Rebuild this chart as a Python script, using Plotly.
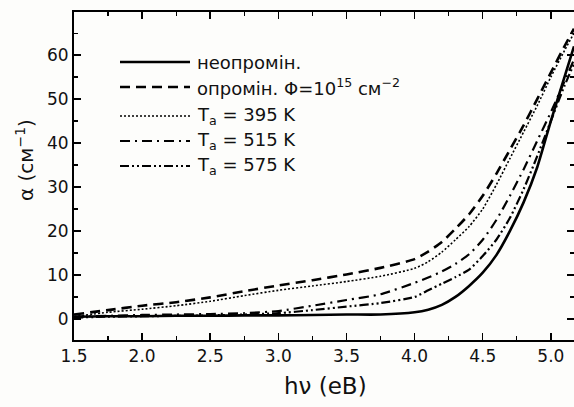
import plotly.graph_objects as go

# photon energy, eV
energy = [1.5, 1.75, 2.0, 2.25, 2.5, 2.75, 3.0, 3.25, 3.5, 3.75, 4.0, 4.1, 4.2,
          4.3, 4.4, 4.5, 4.6, 4.7, 4.8, 4.9, 5.0, 5.1, 5.17]

# absorption coefficient, cm^-1
alpha_unirr = [0.5, 0.6, 0.6, 0.7, 0.7, 0.8, 0.8, 0.9, 1.0, 1.0, 1.5, 2.1, 3.2,
               5.0, 7.5, 10.5, 14.5, 20.0, 26.5, 34.5, 45.0, 55.0, 62.0]
alpha_irr = [1.0, 2.0, 3.0, 3.8, 4.9, 6.3, 7.6, 8.8, 10.1, 11.6, 13.6, 15.3, 17.5,
             20.5, 23.8, 28.0, 33.0, 38.5, 44.0, 50.0, 56.0, 62.0, 66.0]
alpha_395 = [0.5, 1.5, 2.2, 3.0, 4.0, 5.3, 6.5, 7.5, 8.5, 9.7, 11.5, 13.0, 15.2,
             18.0, 21.0, 25.0, 30.5, 36.5, 42.5, 48.5, 55.0, 61.0, 65.0]
alpha_515 = [0.5, 0.7, 0.9, 1.0, 1.1, 1.3, 1.8, 3.0, 4.3, 5.6, 8.2, 9.4, 10.8,
             12.5, 14.7, 18.0, 22.5, 28.0, 34.0, 40.5, 47.0, 54.0, 59.0]
alpha_575 = [0.3, 0.5, 0.6, 0.7, 0.8, 1.0, 1.3, 2.0, 2.8, 3.6, 5.0, 6.5, 8.0,
             9.5, 11.2, 14.3, 18.0, 23.0, 29.5, 37.0, 45.0, 53.0, 58.0]

series_names = ["неопромін.",
                "опромін. Φ=10<sup>15</sup> см<sup>−2</sup>",
                "T<sub>a</sub> = 395 K",
                "T<sub>a</sub> = 515 K",
                "T<sub>a</sub> = 575 K"]
series_values = [alpha_unirr, alpha_irr, alpha_395, alpha_515, alpha_575]
dash_styles = ["solid", "10px,6px", "2px,2px", "10px,5px,2px,5px", "9px,3px,2px,3px,2px,3px"]
line_widths = [2.6, 2.6, 1.6, 2.2, 2.2]

x_ticks = [1.5, 2.0, 2.5, 3.0, 3.5, 4.0, 4.5, 5.0]
x_tick_labels = ["1.5", "2.0", "2.5", "3.0", "3.5", "4.0", "4.5", "5.0"]
y_ticks = [0, 10, 20, 30, 40, 50, 60]
y_tick_labels = ["0", "10", "20", "30", "40", "50", "60"]

FONT = "DejaVu Sans, Verdana, sans-serif"
W, H = 574, 407
L, R, T, B = 74, 0, 12, 67
pw, ph = W - L - R, H - T - B

fig = go.Figure()
for name, vals, dash, lw in zip(series_names, series_values, dash_styles, line_widths):
    fig.add_trace(go.Scatter(x=energy, y=vals, mode="lines", name=name,
                             showlegend=False, hoverinfo="skip",
                             line=dict(color="black", width=lw, dash=dash,
                                       shape="spline", smoothing=0.6)))

def px2paper(xp, yp):
    return (xp - L) / pw, (H - B - yp) / ph

# custom legend (longer line samples, like the original)
legend_rows = [62, 87, 116, 141, 166]
for name, dash, lw, yr in zip(series_names, dash_styles, line_widths, legend_rows):
    x0, y0 = px2paper(120, yr)
    x1, _ = px2paper(190, yr)
    fig.add_shape(type="line", xref="paper", yref="paper", x0=x0, x1=x1, y0=y0, y1=y0,
                  line=dict(color="black", width=lw, dash=dash))
    tx, ty = px2paper(195, yr)
    fig.add_annotation(text=name, xref="paper", yref="paper", x=tx, y=ty,
                       xanchor="left", yanchor="middle", showarrow=False,
                       font=dict(family=FONT, size=18, color="#111"))

ax, ay = px2paper(325, 386)
fig.add_annotation(text="hν (eB)", xref="paper", yref="paper", x=ax, y=ay,
                   xanchor="center", yanchor="middle", showarrow=False,
                   font=dict(family=FONT, size=23, color="#111"))
bx, by = px2paper(25, 160)
fig.add_annotation(text="α (см<sup>−1</sup>)", xref="paper", yref="paper", x=bx, y=by,
                   xanchor="center", yanchor="middle", showarrow=False, textangle=-90,
                   font=dict(family=FONT, size=20, color="#111"))

axis_common = dict(showline=True, linecolor="black", linewidth=2, mirror="ticks",
                   ticks="inside", ticklen=7, tickwidth=1.5, tickcolor="black",
                   showgrid=False, zeroline=False, automargin=False,
                   tickfont=dict(family=FONT, size=17, color="#111"))

fig.update_xaxes(range=[1.5, 5.17], tickvals=x_ticks, ticktext=x_tick_labels,
                 minor=dict(dtick=0.25, tick0=1.5, ticks="inside", ticklen=4,
                            tickcolor="black", tickwidth=1.2),
                 **axis_common)
fig.update_yaxes(range=[-4.8, 69.8], tickvals=y_ticks, ticktext=y_tick_labels,
                 minor=dict(dtick=5, tick0=0, ticks="inside", ticklen=4,
                            tickcolor="black", tickwidth=1.2),
                 **axis_common)

fig.update_layout(width=W, height=H, margin=dict(l=L, r=R, t=T, b=B),
                  paper_bgcolor="#fdfdfb", plot_bgcolor="#fdfdfb",
                  showlegend=False, hovermode=False)

fig.write_html("out.html", config={"displayModeBar": False, "staticPlot": True},
               post_script="document.body.style.margin='0';document.body.style.overflow='hidden';")
